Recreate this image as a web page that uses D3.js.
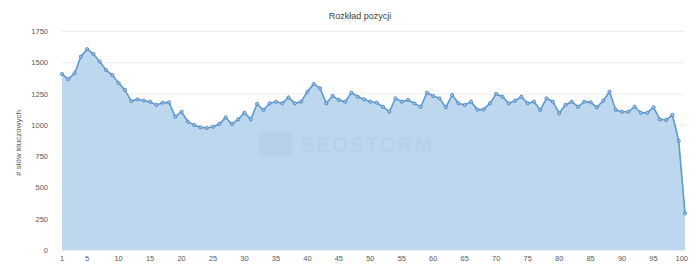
<!DOCTYPE html>
<html><head><meta charset="utf-8">
<script src="https://cdn.jsdelivr.net/npm/d3@7"></script>
<style>body{margin:0;background:#fff;} svg{display:block;font-family:"Liberation Sans",Arial,sans-serif;}</style>
</head><body>
<script>
const title = "Rozkład pozycji";
const yTitle = "# słów kluczowych";
const positions = d3.range(1, 101);
const values = [
1406,1365,1412,1545,1605,1566,1505,1438,1398,1334,
1279,1190,1204,1193,1185,1159,1177,1180,1065,1105,
1025,999,980,975,985,1007,1060,1007,1044,1097,
1044,1167,1119,1172,1185,1172,1220,1172,1185,1265,
1327,1292,1172,1231,1199,1185,1257,1225,1204,1185,
1177,1145,1105,1212,1185,1199,1172,1145,1257,1231,
1212,1140,1239,1172,1159,1185,1122,1124,1172,1247,
1225,1172,1193,1225,1172,1185,1119,1212,1185,1092,
1159,1185,1145,1185,1180,1140,1193,1265,1119,1105,
1105,1145,1097,1097,1140,1044,1039,1079,873,293];
const yTicks = [0,250,500,750,1000,1250,1500,1750];
const xTickLabels = [1,5,10,15,20,25,30,35,40,45,50,55,60,65,70,75,80,85,90,95,100];
const watermark = "SEOSTORM";

const W = 689, H = 266;
const svg = d3.select("body").append("svg").attr("width", W).attr("height", H);
const x = d3.scaleLinear().domain([1, 100]).range([62, 685]);
const y = d3.scaleLinear().domain([0, 1750]).range([250, 31]);

// gridlines
svg.append("g").selectAll("line").data(yTicks).join("line")
  .attr("x1", 62).attr("x2", 685)
  .attr("y1", d => y(d) + 0.5).attr("y2", d => y(d) + 0.5)
  .attr("stroke", "#ececec").attr("stroke-width", 1);

// area
const data = positions.map((p, i) => ({p, v: values[i]}));
svg.append("path").datum(data)
  .attr("d", d3.area().x(d => x(d.p)).y0(y(0)).y1(d => y(d.v)))
  .attr("fill", "#bdd7ee");

// watermark
const wm = svg.append("g").attr("opacity", 0.28);
wm.append("rect").attr("x", 258).attr("y", 131).attr("width", 34).attr("height", 26).attr("rx", 4).attr("fill", "#a9c4df");
wm.append("text").attr("x", 300).attr("y", 152).attr("font-size", 22).attr("font-weight", "bold")
  .attr("fill", "#a9c4df").attr("letter-spacing", 1).text(watermark);

// line
svg.append("path").datum(data)
  .attr("d", d3.line().x(d => x(d.p)).y(d => y(d.v)))
  .attr("fill", "none").attr("stroke", "#5b9bd5").attr("stroke-width", 1.6);

// markers
svg.append("g").selectAll("circle").data(data).join("circle")
  .attr("cx", d => x(d.p)).attr("cy", d => y(d.v)).attr("r", 1.6)
  .attr("fill", "#9dc3e6").attr("stroke", "#4a7ebb").attr("stroke-width", 0.8);

// y axis labels
svg.append("g").selectAll("text").data(yTicks).join("text")
  .attr("x", 48).attr("y", d => y(d) + 3).attr("text-anchor", "end")
  .attr("font-size", 7.5).attr("fill", "#595959").text(d => d);

// x axis labels
svg.append("g").selectAll("text").data(xTickLabels).join("text")
  .attr("x", d => d === 100 ? 688 : x(d)).attr("y", 261)
  .attr("text-anchor", d => d === 100 ? "end" : "middle")
  .attr("font-size", 7.5).attr("fill", "#595959").text(d => d);

// title
svg.append("text").attr("x", 360).attr("y", 19).attr("text-anchor", "middle")
  .attr("font-size", 9).attr("fill", "#404040").text(title);

// y title
svg.append("text").attr("transform", "translate(21,143) rotate(-90)")
  .attr("text-anchor", "middle").attr("font-size", 8).attr("fill", "#595959").text(yTitle);
</script>
</body></html>
